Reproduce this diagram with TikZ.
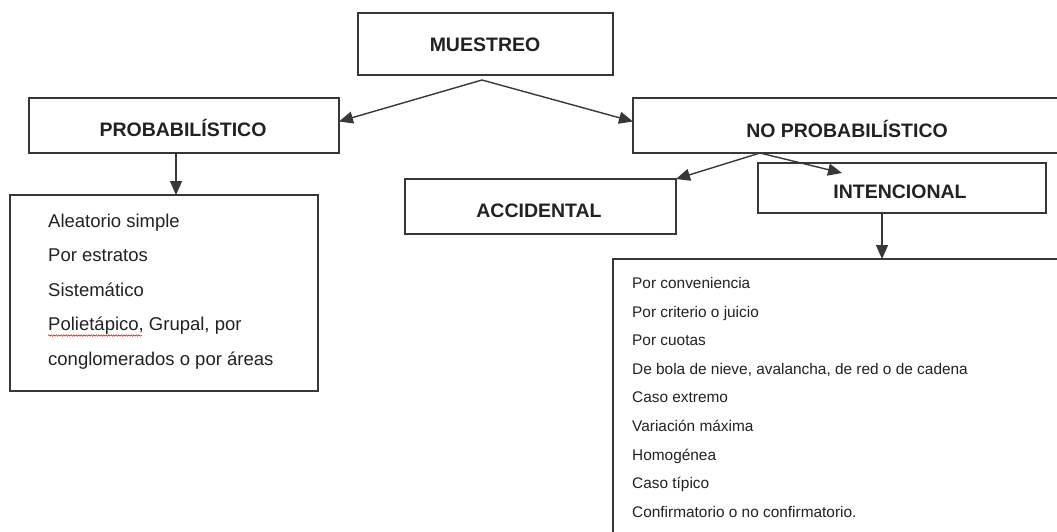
\documentclass[tikz,border=0pt]{standalone}
\usepackage{fontspec}
\setmainfont{Liberation Sans}
\usetikzlibrary{arrows.meta,decorations.pathmorphing}
\definecolor{linec}{HTML}{383838}
\definecolor{textc}{HTML}{222222}
\begin{document}
\begin{tikzpicture}[x=1pt,y=-1pt,
  box/.style={draw=linec,line width=1.2pt,rectangle,inner sep=0pt,outer sep=0pt,anchor=north west,fill=white},
  head/.style={font=\fontsize{19.5}{22}\selectfont\bfseries,text=textc,anchor=base,inner sep=0pt},
  litem/.style={font=\fontsize{18.5}{20}\selectfont,text=textc,anchor=base west,inner sep=0pt},
  ritem/.style={font=\fontsize{15.4}{17}\selectfont,text=textc,anchor=base west,inner sep=0pt},
  arr/.style={draw=linec,line width=1.4pt,-{Triangle[length=14pt,width=12pt]}}
]
\useasboundingbox (0,0) rectangle (1057,531);
\clip (0,0) rectangle (1057,531);
\fill[white] (0,0) rectangle (1057,531);

% boxes
\node[box,minimum width=255pt,minimum height=62pt] (mues) at (358,13) {};
\node[box,minimum width=310pt,minimum height=55pt] (prob) at (29,98) {};
\node[box,minimum width=440pt,minimum height=55pt] (noprob) at (633,98) {};
\node[box,minimum width=271pt,minimum height=55pt] (acc) at (405,179) {};
\node[box,minimum width=288pt,minimum height=50pt] (int) at (758,163) {};
\node[box,minimum width=308pt,minimum height=196pt] (llist) at (10,195) {};
\node[box,minimum width=460pt,minimum height=300pt] (rlist) at (613,259) {};

% headers
\node[head] (tmues) at (485,51.5) {MUESTREO};
\node[head] (tprob) at (183,136.5) {PROBABILÍSTICO};
\node[head] (tnoprob) at (847,137) {NO PROBABILÍSTICO};
\node[head] (tacc) at (539,217) {ACCIDENTAL};
\node[head] (tint) at (900,198) {INTENCIONAL};

% left list
\node[litem] (l1) at (48,227) {Aleatorio simple};
\node[litem] (l2) at (48,261.5) {Por estratos};
\node[litem] (l3) at (48,296) {Sistemático};
\node[litem] (l4) at (48,330.5) {Polietápico, Grupal, por};
\node[litem] (l5) at (48,365) {conglomerados o por áreas};
\draw[red!85!black,line width=0.5pt,decorate,decoration={snake,amplitude=0.7pt,segment length=2.5pt}] (48,335.5) -- (142,335.5);

% right list
\node[ritem] (r1) at (632,288.5) {Por conveniencia};
\node[ritem] (r2) at (632,317) {Por criterio o juicio};
\node[ritem] (r3) at (632,345.7) {Por cuotas};
\node[ritem] (r4) at (632,374.3) {De bola de nieve, avalancha, de red o de cadena};
\node[ritem] (r5) at (632,402.9) {Caso extremo};
\node[ritem] (r6) at (632,431.5) {Variación máxima};
\node[ritem] (r7) at (632,460) {Homogénea};
\node[ritem] (r8) at (632,488.7) {Caso típico};
\node[ritem] (r9) at (632,517) {Confirmatorio o no confirmatorio.};

% connectors
\coordinate (fm) at (482,80);
\coordinate (fn) at (760,153);
\draw[arr] (fm) -- ([yshift=4pt]prob.east);
\draw[arr] (fm) -- ([yshift=4pt]noprob.west);
\draw[arr] (fn) -- (acc.north east);
\draw[arr] (fn) -- ([shift={(84pt,-10pt)}]int.north west);
\draw[arr] ([xshift=-8pt]prob.south) -- ([xshift=-8pt]prob.south |- llist.north);
\draw[arr] ([xshift=-20pt]int.south) -- ([xshift=-20pt]int.south |- rlist.north);
\end{tikzpicture}
\end{document}
